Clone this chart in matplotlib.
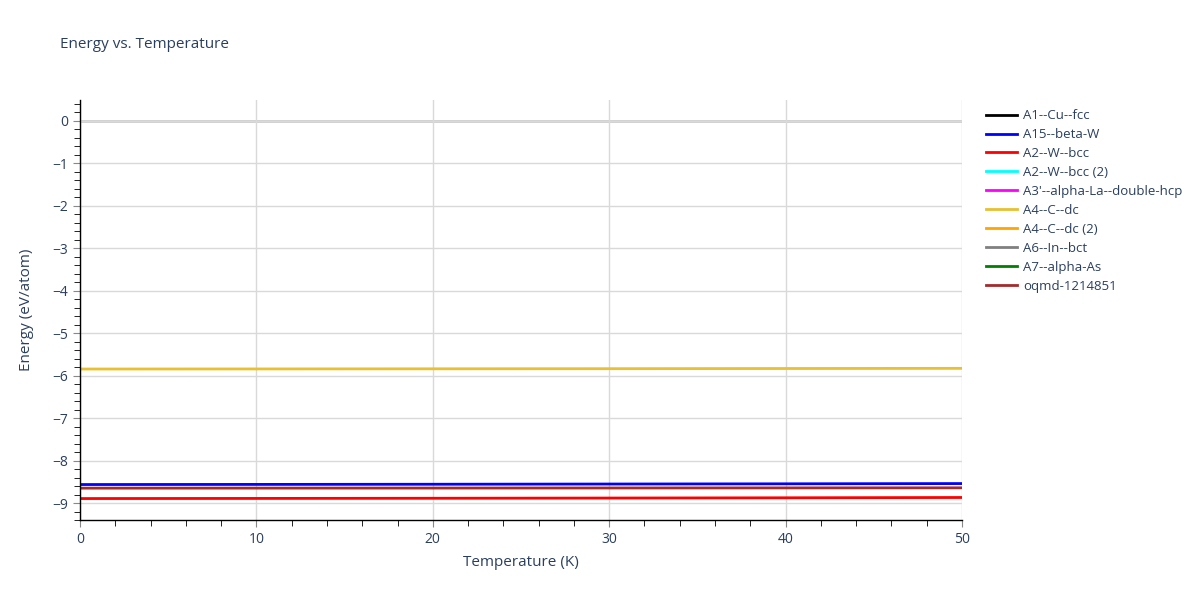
import matplotlib
matplotlib.use("Agg")
import matplotlib.pyplot as plt
from matplotlib.ticker import MultipleLocator

plt.rcParams['font.family'] = ['Open Sans', 'DejaVu Sans']

# temperatures (K)
temps = [0, 10, 20, 30, 40, 50]

# energies (eV/atom) per structure
names = ["A1--Cu--fcc", "A15--beta-W", "A2--W--bcc", "A2--W--bcc (2)",
         "A3'--alpha-La--double-hcp", "A4--C--dc", "A4--C--dc (2)",
         "A6--In--bct", "A7--alpha-As", "oqmd-1214851"]
colors = ["black", "blue", "red", "cyan", "magenta", "#e8c030", "orange",
          "grey", "green", "brown"]
e_a1 = []
e_a15 = [-8.565, -8.562, -8.558, -8.553, -8.548, -8.542]
e_a2 = [-8.895, -8.892, -8.888, -8.883, -8.877, -8.870]
e_a2b = []
e_a3 = []
e_a4 = [-5.845, -5.843, -5.840, -5.837, -5.833, -5.829]
e_a4b = []
e_a6 = []
e_a7 = []
e_oqmd = [-8.650, -8.649, -8.648, -8.646, -8.644, -8.642]
series = [e_a1, e_a15, e_a2, e_a2b, e_a3, e_a4, e_a4b, e_a6, e_a7, e_oqmd]

txt = '#2a3f5f'
fig = plt.figure(figsize=(12, 6), dpi=100)
ax = fig.add_axes([80/1200, 1-520/600, 882/1200, 420/600])

for n, c, e in zip(names, colors, series):
    ax.plot(temps[:len(e)], e, color=c, lw=2, label=n)

ax.set_xlim(0, 50)
ax.set_ylim(-9.4, 0.49)
ax.axhline(0, color='#cccccc', lw=2, zorder=0)
ax.xaxis.set_major_locator(MultipleLocator(10))
ax.xaxis.set_minor_locator(MultipleLocator(2))
ax.yaxis.set_major_locator(MultipleLocator(1))
ax.yaxis.set_minor_locator(MultipleLocator(0.2))
ax.grid(True, which='major', color='#d9d9d9', lw=1)
ax.set_axisbelow(True)
for s in ['top', 'right']:
    ax.spines[s].set_visible(False)
for s in ['left', 'bottom']:
    ax.spines[s].set_color('black')
    ax.spines[s].set_linewidth(1)
ax.tick_params(which='major', length=5, color='#888888', labelcolor=txt, labelsize=10)
ax.tick_params(which='minor', length=4, color='black')
ax.set_yticks([0, -1, -2, -3, -4, -5, -6, -7, -8, -9])
ax.set_yticklabels(['0', '−1', '−2', '−3', '−4', '−5', '−6', '−7', '−8', '−9'])

ax.set_xlabel('Temperature (K)', color=txt, fontsize=11, labelpad=6)
ax.set_ylabel('Energy (eV/atom)', color=txt, fontsize=11, labelpad=13)
fig.text(60/1200, 1-45/600, 'Energy vs. Temperature', color=txt, fontsize=11, va='center')

leg = ax.legend(loc='upper left', bbox_to_anchor=(1.017, 1.0), frameon=False,
                fontsize=9.5, handlelength=2.3, handletextpad=0.5,
                labelspacing=0.45, borderaxespad=0.3)
for t in leg.get_texts():
    t.set_color(txt)

fig.savefig('out.png', dpi=100)
